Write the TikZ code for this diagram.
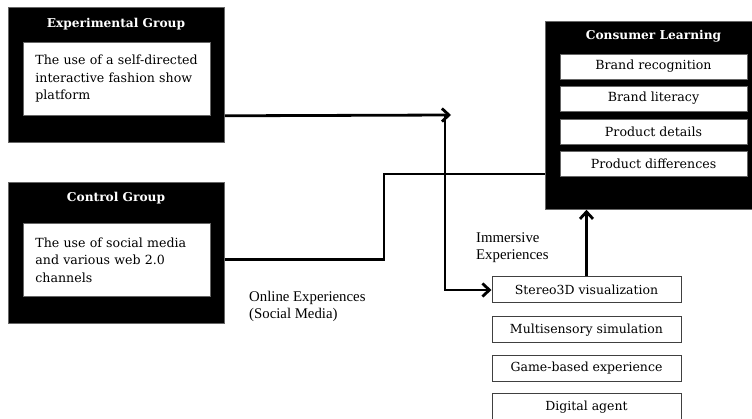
\documentclass[tikz,border=0pt]{standalone}
\usepackage{fontspec}
\setmainfont{DejaVu Serif}
\newfontfamily\timesfont{Liberation Serif}
\usetikzlibrary{arrows.meta}
\usetikzlibrary{calc}

\begin{document}
\begin{tikzpicture}[
    x=1pt, y=-1pt,
    >={Straight Barb[length=7pt,width=13pt]},
    group box/.style={fill=black, draw=black!60, line width=0.8pt, anchor=north west, inner sep=0pt},
    group title/.style={text=white, font=\bfseries\fontsize{12.2}{14}\selectfont, inner sep=0pt},
    body box/.style={fill=white, draw=black!60, line width=0.8pt, anchor=north west, minimum width=187, minimum height=73, text width=163, inner xsep=12pt, align=left, font=\fontsize{12.6}{17.5}\selectfont},
    item box/.style={fill=white, draw=black!60, line width=0.8pt, minimum width=187, minimum height=25, inner sep=0pt, font=\fontsize{12.6}{14}\selectfont},
    tool box/.style={fill=white, draw=black!75, line width=1pt, minimum width=189, minimum height=26, inner sep=0pt, font=\fontsize{12.5}{14}\selectfont},
    note/.style={anchor=north west, align=left, inner sep=0pt, font=\timesfont\fontsize{14.8}{17}\selectfont},
    link/.style={line width=2.8pt}
    ]
    \useasboundingbox (0,0) rectangle (752,419);

    % groups
    \node[group box, minimum width=216, minimum height=135] (exp) at (8,7) {};
    \node[group title] (expTitle) at (116,24) {Experimental Group};
    \node[body box] (expBody) at (23,42) {The use of a self-directed\\interactive fashion show\\platform};
    \node[group box, minimum width=216, minimum height=141] (ctrl) at (8,182) {};
    \node[group title] (ctrlTitle) at (116,198) {Control Group};
    \node[body box] (ctrlBody) at (23,223) {The use of social media\\and various web 2.0\\channels};

    % consumer learning
    \node[group box, minimum width=207, minimum height=188] (cons) at (545,21) {};
    \node[group title] (consTitle) at (653.5,36) {Consumer Learning};
    \node[item box] (recog) at (653.5,66.5) {Brand recognition};
    \node[item box] (liter) at (653.5,98.5) {Brand literacy};
    \node[item box] (detail) at (653.5,131.5) {Product details};
    \node[item box] (diff) at (653.5,163.5) {Product differences};

    % immersive experiences
    \node[tool box] (stereo) at (586.5,290) {Stereo3D visualization};
    \node[tool box] (multi) at (586.5,330) {Multisensory simulation};
    \node[tool box] (game) at (586.5,368.5) {Game-based experience};
    \node[tool box, minimum height=28] (agent) at (586.5,407) {Digital agent};

    % labels
    \node[note] (immLabel) at (476,233) {Immersive\\Experiences};
    \node[note] (onlineLabel) at (249,291) {Online Experiences\\(Social Media)};

    % connectors
    \coordinate (expOut) at (exp.east |- expBody.south);
    \coordinate (split) at (445,115);
    \coordinate (tipA) at (451,115);
    \coordinate (bend) at (384,174);
    \draw[link,->] (expOut) -- (tipA);
    \draw[link,->] (split) |- (stereo.west);
    \draw[link] (ctrl.east |- ctrlBody) -| (bend) -- (cons.west |- bend);
    \draw[link,->] (stereo.north) -- (stereo.north |- cons.south);

\end{tikzpicture}
\end{document}
